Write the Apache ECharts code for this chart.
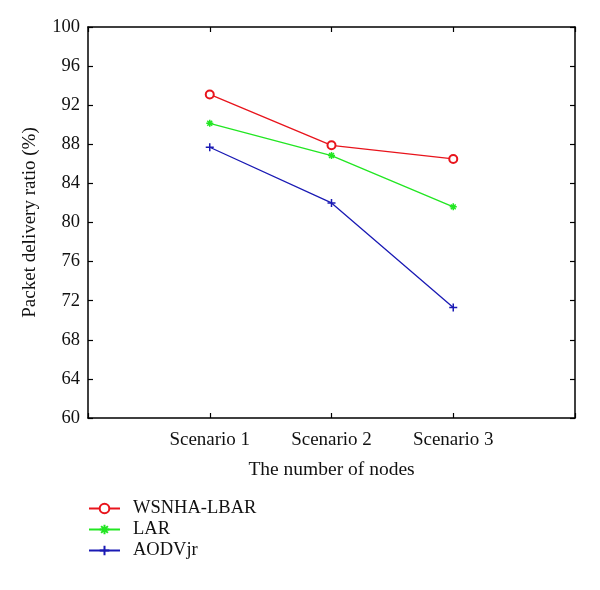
<!DOCTYPE html>
<html><head><meta charset="utf-8">
<script src="https://cdn.jsdelivr.net/npm/echarts@6/dist/echarts.min.js"></script>
<style>html,body{margin:0;padding:0;background:#fff}#c{width:600px;height:590px}</style>
</head><body><div id="c"></div>
<script>
const categories = ['Scenario 1', 'Scenario 2', 'Scenario 3'];
const wsnha = [93.1, 87.9, 86.5];
const lar = [90.15, 86.85, 81.6];
const aodv = [87.7, 82.0, 71.3];
const yTicks = [60, 64, 68, 72, 76, 80, 84, 88, 92, 96, 100];

const F = 'Liberation Serif';
const toPts = arr => arr.map((v, i) => [i + 1, v]);
const plusPath = 'path://M5,0 L5,10 M0,5 L10,5';
const starPath = 'path://M5,0 L5,10 M0,5 L10,5 M1.5,1.5 L8.5,8.5 M1.5,8.5 L8.5,1.5';
const axisLine = { show: true, onZero: false, lineStyle: { color: '#000', width: 1.5 } };
const tick = { show: true, inside: true, length: 5, lineStyle: { color: '#000', width: 1.2 } };

const chart = echarts.init(document.getElementById('c'));
chart.setOption({
  animation: false,
  backgroundColor: '#fff',
  grid: { left: 88, right: 25, top: 27, bottom: 172 },
  legend: {
    orient: 'vertical', left: 83, top: 494, itemGap: 2,
    itemWidth: 31, itemHeight: 12,
    textStyle: { fontFamily: F, fontSize: 18.5, color: '#111', padding: [0, 0, 0, 8] },
    data: ['WSNHA-LBAR', 'LAR', 'AODVjr']
  },
  xAxis: [{
    type: 'value', min: 0, max: categories.length + 1, interval: 1,
    name: 'The number of nodes', nameLocation: 'middle', nameGap: 42,
    nameTextStyle: { fontFamily: F, fontSize: 19.5, color: '#111' },
    axisLine: axisLine, axisTick: tick, splitLine: { show: false },
    axisLabel: {
      fontFamily: F, fontSize: 19, color: '#111', margin: 13,
      formatter: v => (v >= 1 && v <= categories.length) ? categories[v - 1] : ''
    }
  }, {
    type: 'value', position: 'top', min: 0, max: categories.length + 1, interval: 1,
    axisLine: axisLine, axisTick: tick, axisLabel: { show: false }, splitLine: { show: false }
  }],
  yAxis: [{
    type: 'value', min: yTicks[0], max: yTicks[yTicks.length - 1], interval: 4,
    name: 'Packet delivery ratio (%)', nameLocation: 'middle', nameGap: 48,
    nameTextStyle: { fontFamily: F, fontSize: 19, color: '#111' },
    axisLine: axisLine, axisTick: tick, splitLine: { show: false },
    axisLabel: { fontFamily: F, fontSize: 18.5, color: '#111', margin: 8 }
  }, {
    type: 'value', position: 'right', min: yTicks[0], max: yTicks[yTicks.length - 1], interval: 4,
    axisLine: axisLine, axisTick: tick, axisLabel: { show: false }, splitLine: { show: false }
  }],
  series: [{
    name: 'WSNHA-LBAR', type: 'line', data: toPts(wsnha),
    symbol: 'emptyCircle', symbolSize: 8,
    lineStyle: { color: '#e8141c', width: 1.3 },
    itemStyle: { color: '#e8141c', borderColor: '#e8141c', borderWidth: 1.3 }
  }, {
    name: 'LAR', type: 'line', data: toPts(lar),
    symbol: starPath, symbolSize: 7,
    lineStyle: { color: '#22e622', width: 1.3 },
    itemStyle: { color: '#22e622', borderColor: '#22e622', borderWidth: 1.5 }
  }, {
    name: 'AODVjr', type: 'line', data: toPts(aodv),
    symbol: plusPath, symbolSize: 8,
    lineStyle: { color: '#1a1ab4', width: 1.3 },
    itemStyle: { color: '#1a1ab4', borderColor: '#1a1ab4', borderWidth: 1.5 }
  }]
});
</script></body></html>
